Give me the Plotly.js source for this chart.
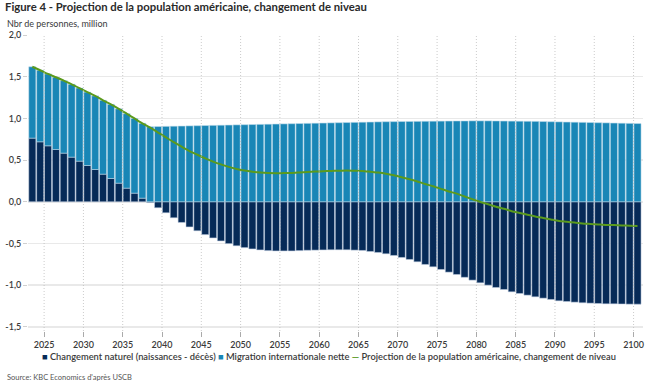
<!DOCTYPE html>
<html>
<head>
<meta charset="utf-8">
<script src="https://cdn.plot.ly/plotly-3.0.1.min.js"></script>
<style>
  html, body { margin: 0; padding: 0; background: #fff; }
  #chart { width: 652px; height: 388px; }
</style>
</head>
<body>
<div id="chart"></div>
<script>
// ---------- data ----------
const years = [2023,2024,2025,2026,2027,2028,2029,2030,2031,2032,2033,2034,2035,2036,2037,2038,2039,2040,
  2041,2042,2043,2044,2045,2046,2047,2048,2049,2050,2051,2052,2053,2054,2055,2056,2057,2058,2059,2060,
  2061,2062,2063,2064,2065,2066,2067,2068,2069,2070,2071,2072,2073,2074,2075,2076,2077,2078,2079,2080,
  2081,2082,2083,2084,2085,2086,2087,2088,2089,2090,2091,2092,2093,2094,2095,2096,2097,2098,2099,2100];

const naturalChange = [0.763,0.719,0.671,0.627,0.583,0.535,0.487,0.435,0.387,0.331,0.279,0.223,0.163,0.103,0.043,-0.010,-0.072,-0.132,
  -0.192,-0.248,-0.302,-0.348,-0.394,-0.434,-0.470,-0.502,-0.528,-0.550,-0.566,-0.578,-0.586,-0.590,-0.590,-0.590,-0.586,-0.582,-0.580,-0.578,
  -0.576,-0.576,-0.576,-0.580,-0.584,-0.596,-0.608,-0.624,-0.644,-0.668,-0.692,-0.720,-0.752,-0.780,-0.812,-0.844,-0.872,-0.906,-0.940,-0.972,
  -1.000,-1.028,-1.052,-1.080,-1.100,-1.120,-1.140,-1.156,-1.172,-1.188,-1.196,-1.204,-1.212,-1.216,-1.220,-1.224,-1.224,-1.226,-1.228,-1.228];

const netMigration = [0.856,0.858,0.862,0.866,0.870,0.874,0.877,0.880,0.883,0.886,0.889,0.892,0.894,0.896,0.898,0.900,0.902,0.904,
  0.906,0.908,0.910,0.912,0.914,0.916,0.918,0.920,0.922,0.924,0.926,0.928,0.930,0.932,0.934,0.936,0.938,0.940,0.942,0.944,
  0.946,0.948,0.950,0.952,0.954,0.956,0.958,0.960,0.961,0.962,0.963,0.964,0.965,0.966,0.967,0.968,0.969,0.969,0.970,0.970,
  0.970,0.969,0.968,0.967,0.966,0.965,0.964,0.962,0.960,0.958,0.956,0.954,0.952,0.950,0.948,0.946,0.944,0.942,0.940,0.938];

const populationChange = [1.619,1.577,1.533,1.493,1.453,1.409,1.364,1.315,1.270,1.217,1.168,1.115,1.057,0.999,0.941,0.890,0.830,0.772,
  0.714,0.660,0.608,0.564,0.520,0.482,0.448,0.418,0.394,0.374,0.360,0.350,0.344,0.342,0.344,0.346,0.352,0.358,0.362,0.366,
  0.370,0.372,0.374,0.372,0.370,0.360,0.350,0.336,0.317,0.294,0.271,0.244,0.213,0.186,0.155,0.124,0.097,0.063,0.030,-0.002,
  -0.030,-0.059,-0.084,-0.113,-0.134,-0.155,-0.176,-0.194,-0.212,-0.230,-0.240,-0.250,-0.260,-0.266,-0.272,-0.278,-0.280,-0.284,-0.288,-0.290];

const seriesNames = [
  "Changement naturel (naissances - décès)",
  "Migration internationale nette",
  "Projection de la population américaine, changement de niveau"
];

const xTickYears = [2025,2030,2035,2040,2045,2050,2055,2060,2065,2070,2075,2080,2085,2090,2095,2100];
const yTickValues = [2.0,1.5,1.0,0.5,0.0,-0.5,-1.0,-1.5];
const yTickLabels = ["2,0","1,5","1,0","0,5","0,0","-0,5","-1,0","-1,5"];

// ---------- styles ----------
const NAVY = "#062a57";
const BLUE = "#1986b6";
const GREEN = "#5b9a1d";
const FONT = "Lato, 'Open Sans', sans-serif";

const traces = [
  {
    type: "bar", name: seriesNames[0], x: years, y: naturalChange, showlegend: false,
    marker: { color: NAVY, line: { color: "rgba(190,205,225,0.9)", width: 0.6 } }
  },
  {
    type: "bar", name: seriesNames[1], x: years, y: netMigration, showlegend: false,
    marker: { color: BLUE, line: { color: "rgba(190,220,235,0.9)", width: 0.6 } }
  },
  {
    type: "scatter", mode: "lines", name: seriesNames[2], x: years, y: populationChange, showlegend: false,
    line: { color: GREEN, width: 2, shape: "spline", smoothing: 0.6 }
  }
];

const gridShapes = xTickYears.map(yr => ({
  type: "line", xref: "x", yref: "paper",
  x0: yr - 0.5, x1: yr - 0.5, y0: 0, y1: 1,
  line: { color: "rgba(185,185,185,0.75)", width: 1, dash: "1px,2px" },
  layer: "above"
}));

const legendText =
  `<span style="color:${NAVY}">■</span> ${seriesNames[0]} ` +
  `<span style="color:${BLUE}">■</span> ${seriesNames[1]} ` +
  `<span style="color:${GREEN}"><b>—</b></span> ${seriesNames[2]}`;

const layout = {
  width: 652, height: 388,
  margin: { l: 28, r: 9, t: 35, b: 57 },
  paper_bgcolor: "#fff", plot_bgcolor: "#fff",
  font: { family: FONT, size: 9, color: "#3a3a3a" },
  barmode: "relative",
  bargap: 0.1,
  title: {
    text: "<b>Figure 4 - Projection de la population américaine, changement de niveau</b>",
    font: { family: FONT, size: 11.3, color: "#2a2a2a" },
    x: 0.0077, xref: "container", xanchor: "left",
    y: 0.992, yref: "container", yanchor: "top"
  },
  xaxis: {
    range: [2022.45, 2100.7],
    tickmode: "array",
    tickvals: xTickYears.map(yr => yr - 0.5),
    ticktext: xTickYears.map(String),
    showgrid: false, zeroline: false, showline: false,
    ticks: "outside", ticklen: 5, tickcolor: "#aaa", tickwidth: 1,
    tickfont: { family: FONT, size: 9, color: "#3a3a3a", weight: 600 }
  },
  yaxis: {
    range: [-1.55, 2.0],
    tickmode: "array",
    tickvals: yTickValues,
    ticktext: yTickLabels,
    showgrid: true, gridcolor: "#e9e9e9", gridwidth: 1.5,
    zeroline: false, showline: false,
    ticks: "outside", ticklen: 4, tickcolor: "#d0d0d0",
    tickfont: { family: FONT, size: 9, color: "#3a3a3a", weight: 600 }
  },
  shapes: gridShapes,
  annotations: [
    {
      text: "Nbr de personnes, million",
      xref: "paper", yref: "paper", x: 0, y: 1, xshift: -23, yshift: 12,
      xanchor: "left", yanchor: "middle", showarrow: false,
      font: { family: FONT, size: 9, color: "#3a3a3a" }
    },
    {
      text: legendText,
      xref: "paper", yref: "paper", x: 0.49, y: -0.0845,
      xanchor: "center", yanchor: "middle", showarrow: false,
      font: { family: FONT, size: 9.3, color: "#3a3a3a", weight: 600 }
    },
    {
      text: "Source: KBC Economics d'après USCB",
      xref: "paper", yref: "paper", x: 0, y: 0, xshift: -23, yshift: -46,
      xanchor: "left", yanchor: "middle", showarrow: false,
      font: { family: FONT, size: 7.5, color: "#555" }
    }
  ]
};

Plotly.newPlot("chart", traces, layout, { displayModeBar: false, staticPlot: true });
</script>
</body>
</html>
